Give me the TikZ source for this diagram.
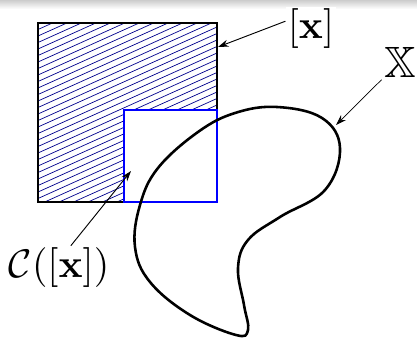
\documentclass[tikz,border=0pt]{standalone}
\usepackage{amsmath,amssymb}
\usetikzlibrary{arrows.meta}

\begin{document}
\begin{tikzpicture}[x=0.03cm, y=-0.03cm,
    box/.style={draw, line width=1.3pt},
    inner/.style={draw=blue, fill=white, line width=1.2pt},
    hatch/.style={draw=blue!55!black, line width=0.6pt},
    lbl/.style={inner sep=0.4pt, scale=3.4},
    pointer/.style={-{Stealth[length=9pt, width=6pt]}, line width=0.8pt}]
    \useasboundingbox (0,0) rectangle (417,340);
    % grey band at the top
    \shade[top color=gray!40, middle color=gray!75, bottom color=white] (0,0) rectangle (417,9);

    % the box [x], hatched, with C([x]) cut out
    \coordinate (bl) at (38,202);
    \coordinate (tr) at (217,23);
    \begin{scope}
        \clip (bl) rectangle (tr);
        \foreach \c in {23,29.5,...,290}
            \draw[hatch] (38,\c) -- (217,\c-80.5);
    \end{scope}
    \draw[box] (bl) rectangle (tr);
    \draw[inner] (124,110) rectangle (217,202);

    % the set X
    \draw[line width=2.2pt] plot[smooth cycle, tension=0.65] coordinates {
        (277,107) (322,118) (340,148) (325,190) (280,217) (248,240) (238,268)
        (244,305) (248,330) (236,335) (190,315) (150,282) (135,247) (140,205)
        (158,168) (198,132) (235,113)};

    \node[lbl, fill=white] (boxlbl) at (311,29) {$[\mathbf{x}]$};
    \node[lbl, scale=1.1] (setlbl) at (400,62) {$\mathbb{X}$};
    \node[lbl] (contlbl) at (59,268) {$\mathcal{C}([\mathbf{x}])$};

    \coordinate (boxtip) at (218,47);
    \coordinate (settip) at (336,125);
    \coordinate (conttip) at (131,171);
    \draw[pointer] (boxlbl.163) -- (boxtip);
    \draw[pointer, line width=0.6pt] (setlbl.south west) -- (settip);
    \draw[pointer] (contlbl.62) -- (conttip);
\end{tikzpicture}
\end{document}
